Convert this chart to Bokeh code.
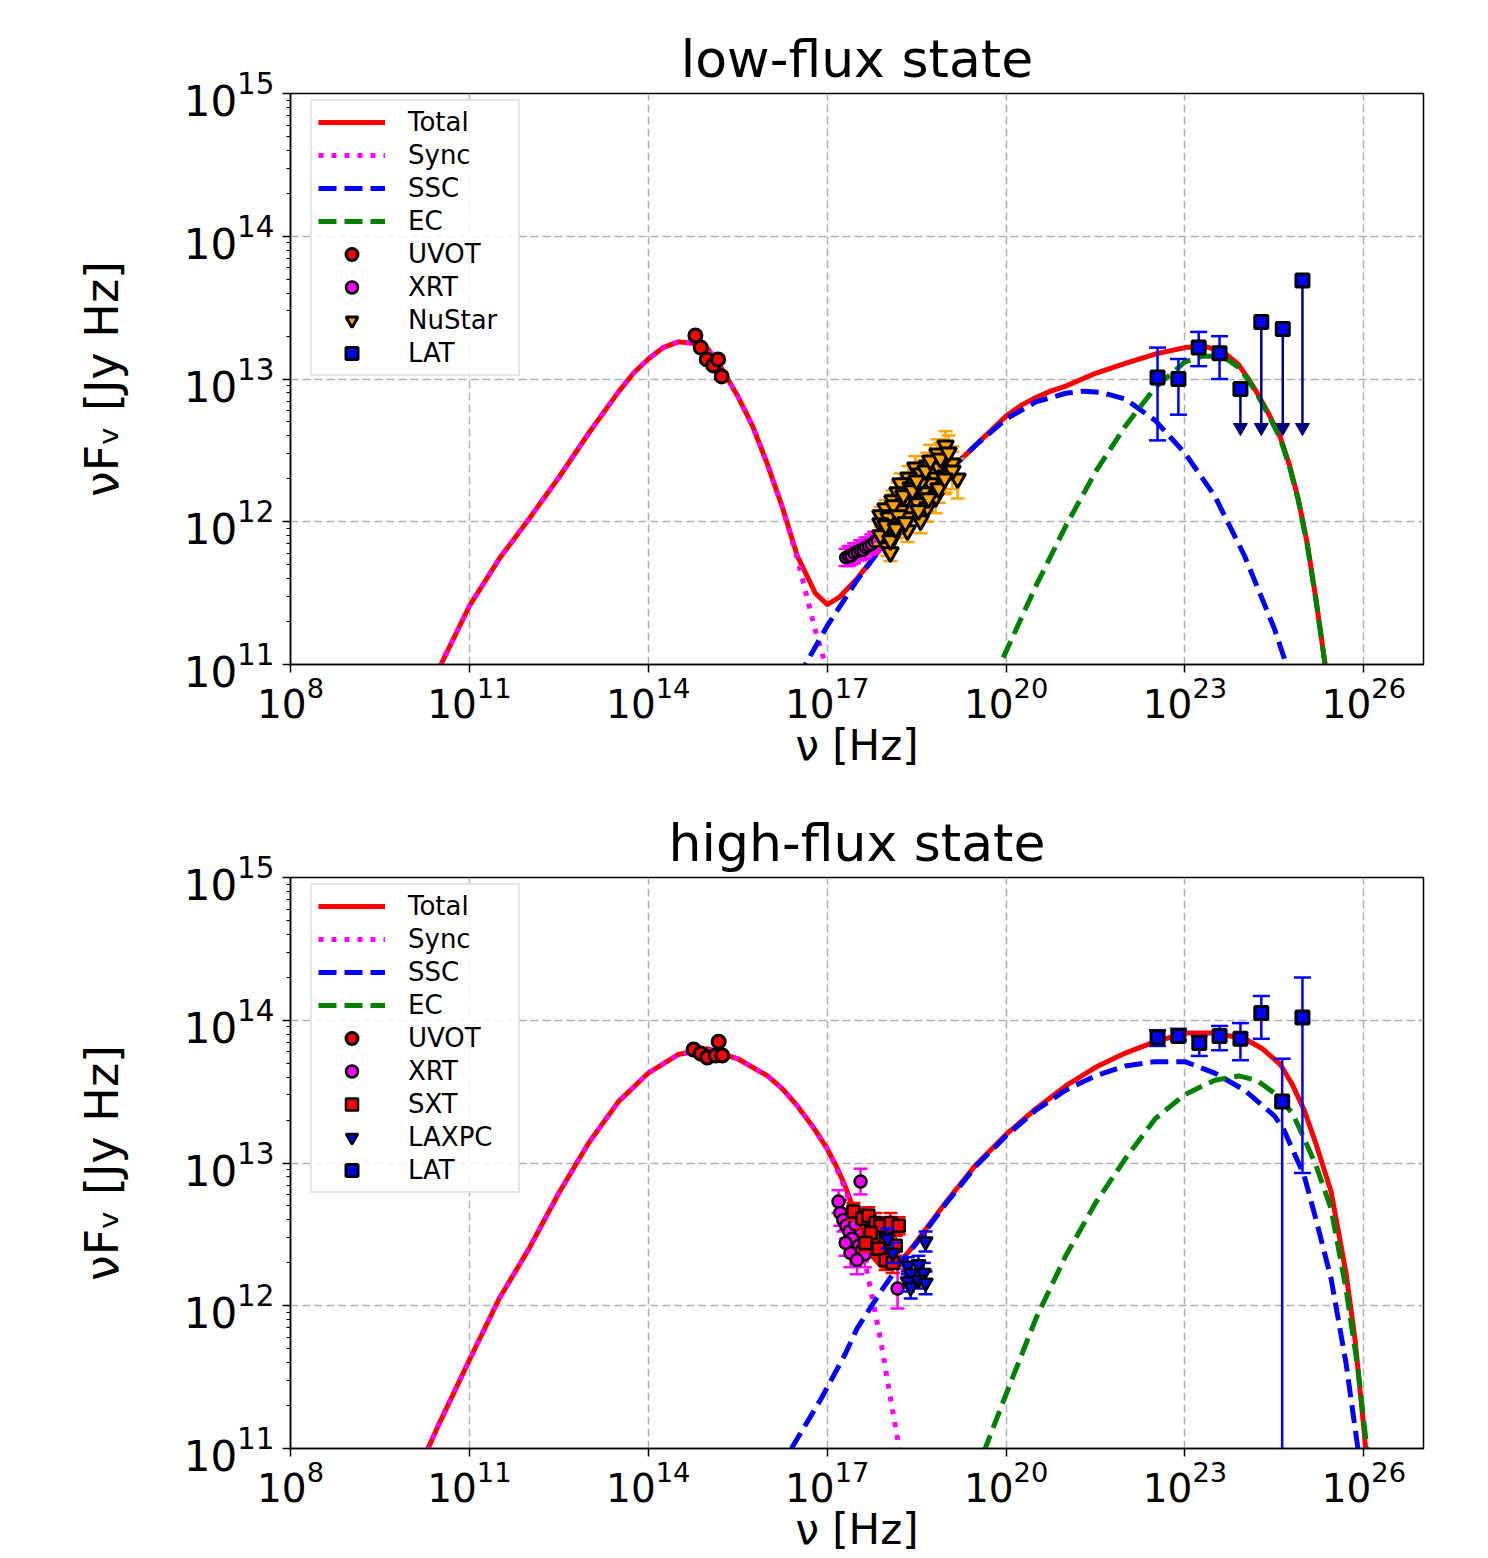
import numpy as np
from bokeh.plotting import figure
from bokeh.layouts import column
from bokeh.models import FixedTicker, LogTickFormatter, Legend, LegendItem, Range1d
from bokeh.embed import file_html
from bokeh.resources import INLINE

FONT = "DejaVu Sans"

# ---------------- data (log10 of nu [Hz] and nuF_nu [Jy Hz]) ----------------
x_tick_exps = [8, 11, 14, 17, 20, 23, 26]
y_tick_exps = [11, 12, 13, 14, 15]

# ---- low-flux state: model curves ----
low_sync_lognu = [10.5, 11.0, 11.5, 12.0, 12.5, 13.0, 13.5, 13.75, 14.0, 14.25, 14.5, 14.75, 15.0, 15.25, 15.5, 15.75, 16.0, 16.25, 16.5, 16.8, 17.0, 17.1]
low_sync_logF = [10.98, 11.41, 11.74, 12.02, 12.31, 12.62, 12.91, 13.04, 13.14, 13.22, 13.26, 13.25, 13.21, 13.06, 12.88, 12.67, 12.40, 12.10, 11.74, 11.24, 10.96, 10.70]

low_total_lognu = [10.5, 11.0, 11.5, 12.0, 12.5, 13.0, 13.5, 13.75, 14.0, 14.25, 14.5, 14.75, 15.0, 15.25, 15.5, 15.75, 16.0, 16.25, 16.5, 16.8, 17.0, 17.2, 17.5, 18.0, 18.5, 19.0, 19.5, 19.75, 20.0, 20.25, 20.5, 20.75, 21.0, 21.5, 22.0, 22.5, 23.0, 23.3, 23.5, 23.7, 23.9, 24.05, 24.2, 24.4, 24.6, 24.75, 24.9, 25.05, 25.2, 25.35, 25.45]
low_total_logF = [10.98, 11.41, 11.74, 12.02, 12.31, 12.62, 12.91, 13.04, 13.14, 13.22, 13.26, 13.25, 13.21, 13.06, 12.88, 12.67, 12.40, 12.10, 11.76, 11.50, 11.42, 11.47, 11.60, 11.87, 12.11, 12.34, 12.54, 12.64, 12.74, 12.815, 12.87, 12.915, 12.95, 13.04, 13.11, 13.175, 13.22, 13.23, 13.21, 13.17, 13.10, 13.01, 12.91, 12.76, 12.59, 12.40, 12.16, 11.85, 11.45, 11.0, 10.6]

low_ssc_lognu = [16.5, 17.0, 17.5, 18.0, 18.5, 19.0, 19.5, 20.0, 20.5, 21.0, 21.3, 21.6, 22.0, 22.5, 23.0, 23.5, 24.0, 24.5, 24.7, 24.9]
low_ssc_logF = [10.90, 11.27, 11.59, 11.87, 12.11, 12.34, 12.54, 12.72, 12.84, 12.90, 12.915, 12.905, 12.86, 12.71, 12.48, 12.18, 11.76, 11.25, 11.0, 10.6]

low_ec_lognu = [19.7, 19.9, 20.5, 21.0, 21.5, 22.0, 22.5, 23.0, 23.3, 23.5, 23.7, 23.9, 24.05, 24.2, 24.4, 24.6, 24.75, 24.9, 25.05, 25.2, 25.35, 25.45]
low_ec_logF = [10.7, 11.0, 11.55, 11.97, 12.35, 12.67, 12.94, 13.12, 13.16, 13.16, 13.14, 13.08, 13.00, 12.90, 12.75, 12.58, 12.39, 12.15, 11.84, 11.44, 11.0, 10.6]

# ---- low-flux state: data ----
low_uvot_lognu = [14.79, 14.88, 14.98, 15.09, 15.17, 15.23]
low_uvot_logF = [13.305, 13.22, 13.137, 13.095, 13.137, 13.018]
low_uvot_err = [0.02, 0.02, 0.02, 0.02, 0.02, 0.02]

low_xrt_lognu = [17.31, 17.36, 17.40, 17.45, 17.50, 17.55, 17.60, 17.64, 17.69, 17.74, 17.79, 17.84]
low_xrt_logF = [11.75, 11.76, 11.76, 11.78, 11.79, 11.80, 11.80, 11.82, 11.83, 11.84, 11.86, 11.87]
low_xrt_err = [0.06, 0.07, 0.06, 0.07, 0.06, 0.07, 0.06, 0.07, 0.06, 0.07, 0.07, 0.06]

low_nustar_lognu = [18.985, 18.85, 19.10, 18.68, 18.867, 18.48, 18.565, 19.186, 18.985, 18.817,
                    18.364, 18.733, 18.565, 18.23, 18.40, 18.18, 18.615, 18.45, 18.817, 18.096,
                    18.28, 18.515, 18.68, 17.98, 18.23, 17.894, 18.03, 18.364, 18.565, 17.894,
                    18.18, 18.347, 17.98, 17.894, 18.096, 18.01, 18.06,
                    17.98, 18.11, 18.196, 18.28, 18.43, 18.50, 18.65, 18.73, 18.90, 19.035,
                    19.10, 18.06, 18.15, 18.31, 18.53, 18.70, 18.87, 18.97]
low_nustar_logF = [12.534, 12.478, 12.408, 12.394, 12.38, 12.38, 12.338, 12.303, 12.324, 12.31,
                   12.31, 12.268, 12.268, 12.268, 12.24, 12.205, 12.205, 12.198, 12.17, 12.149,
                   12.128, 12.128, 12.10, 12.093, 12.079, 12.044, 12.03, 12.03, 12.009, 11.988,
                   11.96, 11.939, 11.925, 11.904, 11.883, 11.82, 11.785,
                   11.974, 12.114, 12.044, 12.184, 12.219, 12.289, 12.359, 12.429, 12.443, 12.485,
                   12.359, 11.869, 11.953, 11.995, 12.079, 12.163, 12.233, 12.303]
low_nustar_err = [0.10, 0.10, 0.12, 0.09, 0.10, 0.08, 0.09, 0.14, 0.12, 0.10,
                  0.08, 0.10, 0.09, 0.07, 0.08, 0.07, 0.09, 0.08, 0.11, 0.07,
                  0.07, 0.08, 0.10, 0.06, 0.07, 0.06, 0.06, 0.08, 0.09, 0.06,
                  0.07, 0.08, 0.06, 0.06, 0.07, 0.06, 0.06,
                  0.08, 0.08, 0.07, 0.09, 0.09, 0.09, 0.10, 0.11, 0.11, 0.12,
                  0.13, 0.07, 0.07, 0.08, 0.08, 0.09, 0.10, 0.11]

low_lat_lognu = [22.54, 22.89, 23.23, 23.58]
low_lat_logF = [13.01, 13.00, 13.22, 13.18]
low_lat_hi = [13.22, 13.14, 13.33, 13.30]
low_lat_lo = [12.57, 12.75, 13.09, 13.00]
low_ul_lognu = [23.93, 24.28, 24.64, 24.97]
low_ul_logF = [12.93, 13.40, 13.35, 13.69]
low_ul_end = [12.66, 12.66, 12.66, 12.66]

# ---- high-flux state: model curves ----
high_sync_lognu = [10.2, 10.5, 11.0, 11.5, 12.0, 12.5, 13.0, 13.5, 14.0, 14.5, 15.0, 15.5, 16.0, 16.25, 16.5, 16.75, 17.0, 17.15, 17.3, 17.45, 17.6, 17.75, 17.9, 18.05, 18.2, 18.3]
high_sync_logF = [10.9, 11.18, 11.62, 12.05, 12.40, 12.79, 13.14, 13.43, 13.63, 13.76, 13.80, 13.73, 13.61, 13.52, 13.40, 13.26, 13.10, 12.97, 12.82, 12.62, 12.38, 12.07, 11.75, 11.38, 11.02, 10.7]

high_total_lognu = [10.2, 10.5, 11.0, 11.5, 12.0, 12.5, 13.0, 13.5, 14.0, 14.5, 15.0, 15.5, 16.0, 16.25, 16.5, 16.75, 17.0, 17.15, 17.3, 17.45, 17.6, 17.75, 17.9, 18.05, 18.2, 18.35, 18.5, 19.0, 19.5, 20.0, 20.5, 21.0, 21.5, 22.0, 22.5, 23.0, 23.5, 24.0, 24.3, 24.6, 24.8, 25.0, 25.2, 25.45, 25.7, 25.85, 26.0, 26.05]
high_total_logF = [10.9, 11.18, 11.62, 12.05, 12.40, 12.79, 13.14, 13.43, 13.63, 13.76, 13.80, 13.73, 13.61, 13.52, 13.40, 13.26, 13.10, 12.98, 12.84, 12.67, 12.49, 12.35, 12.28, 12.26, 12.30, 12.37, 12.45, 12.73, 12.99, 13.20, 13.38, 13.54, 13.67, 13.77, 13.85, 13.91, 13.91, 13.87, 13.80, 13.69, 13.55, 13.37, 13.13, 12.80, 12.23, 11.77, 11.14, 10.9]

high_ssc_lognu = [16.4, 16.9, 17.3, 17.5, 17.9, 18.2, 18.5, 19.0, 19.5, 20.0, 20.5, 21.0, 21.5, 22.0, 22.5, 23.0, 23.5, 24.0, 24.5, 24.65, 25.0, 25.2, 25.45, 25.7, 25.9, 26.0]
high_ssc_logF = [11.0, 11.35, 11.66, 11.84, 12.10, 12.28, 12.44, 12.72, 12.98, 13.19, 13.37, 13.51, 13.61, 13.68, 13.71, 13.71, 13.63, 13.51, 13.33, 13.24, 12.91, 12.60, 12.19, 11.60, 11.0, 10.6]

high_ec_lognu = [19.5, 19.65, 20.0, 20.5, 21.0, 21.5, 22.0, 22.5, 23.0, 23.5, 23.9, 24.2, 24.5, 24.8, 25.0, 25.2, 25.45, 25.7, 25.9, 26.05, 26.1]
high_ec_logF = [10.8, 11.0, 11.38, 11.91, 12.35, 12.72, 13.03, 13.31, 13.48, 13.58, 13.61, 13.58, 13.49, 13.35, 13.17, 12.98, 12.68, 12.12, 11.56, 11.0, 10.7]

# ---- high-flux state: data ----
high_uvot_lognu = [14.76, 14.88, 14.99, 15.13, 15.18, 15.24]
high_uvot_logF = [13.795, 13.767, 13.739, 13.753, 13.85, 13.753]
high_uvot_err = [0.02, 0.02, 0.02, 0.02, 0.02, 0.02]

high_xrt_lognu = [17.19, 17.56, 17.22, 17.27, 17.32, 17.37, 17.42, 17.47, 17.53, 17.58, 17.63, 17.39, 17.31, 17.50, 17.70, 17.76, 18.18]
high_xrt_logF = [12.73, 12.87, 12.65, 12.60, 12.56, 12.52, 12.47, 12.57, 12.42, 12.39, 12.36, 12.37, 12.44, 12.32, 12.49, 12.44, 12.12]
high_xrt_err = [0.08, 0.09, 0.09, 0.08, 0.09, 0.08, 0.09, 0.08, 0.09, 0.08, 0.09, 0.10, 0.09, 0.10, 0.08, 0.09, 0.14]

high_sxt_lognu = [17.44, 17.59, 17.69, 17.81, 17.89, 18.06, 18.20, 17.73, 17.98, 18.15, 17.86, 17.98, 17.64, 18.10]
high_sxt_logF = [12.66, 12.61, 12.63, 12.58, 12.56, 12.58, 12.56, 12.51, 12.47, 12.42, 12.40, 12.32, 12.44, 12.30]
high_sxt_err = [0.06, 0.07, 0.06, 0.07, 0.06, 0.07, 0.06, 0.07, 0.06, 0.07, 0.06, 0.07, 0.06, 0.07]

high_laxpc_lognu = [18.65, 18.35, 18.53, 18.40, 18.62, 18.35, 18.53, 18.40, 18.65, 18.01, 18.10]
high_laxpc_logF = [12.45, 12.28, 12.29, 12.23, 12.23, 12.17, 12.18, 12.13, 12.16, 12.47, 12.37]
high_laxpc_err = [0.07, 0.06, 0.06, 0.07, 0.07, 0.07, 0.06, 0.08, 0.08, 0.07, 0.07]

high_lat_lognu = [22.54, 22.89, 23.24, 23.58, 23.93, 24.28, 24.63, 24.97]
high_lat_logF = [13.88, 13.89, 13.84, 13.89, 13.87, 14.05, 13.43, 14.02]
high_lat_hi = [13.93, 13.94, 13.89, 13.96, 13.98, 14.17, 13.73, 14.30]
high_lat_lo = [13.82, 13.86, 13.75, 13.79, 13.72, 13.87, 10.0, 12.93]


def p10(a):
    return list(np.power(10.0, np.asarray(a, dtype=float)))


RED = "#ff0000"
MAG = "#ff00ff"
BLUE = "#0000ff"
GREEN = "#008000"
ORANGE = "#ffa500"
NAVY = "#000080"

FRAME_W = 1133
FRAME_H = 571


def make_fig(title, top_border, bottom_border):
    height = top_border + FRAME_H + bottom_border
    p = figure(width=1488, height=height, x_axis_type="log", y_axis_type="log",
               x_range=Range1d(1e8, 1e27), y_range=Range1d(1e11, 1e15),
               output_backend="svg", toolbar_location=None, title=title,
               min_border_left=290, min_border_right=1488 - 290 - FRAME_W,
               min_border_top=top_border, min_border_bottom=bottom_border)
    p.title.text_font = FONT
    p.title.text_font_size = "52px"
    p.title.text_font_style = "normal"
    p.title.align = "center"
    p.title.text_color = "black"

    p.xaxis.ticker = FixedTicker(ticks=[10.0 ** e for e in x_tick_exps], minor_ticks=[])
    ymin = [k * 10.0 ** e for e in y_tick_exps[:-1] for k in range(2, 10)]
    p.yaxis.ticker = FixedTicker(ticks=[10.0 ** e for e in y_tick_exps], minor_ticks=ymin)
    for ax in (p.xaxis[0], p.yaxis[0]):
        ax.formatter = LogTickFormatter()
        ax.major_label_text_font = FONT
        ax.major_label_text_color = "black"
        ax.axis_line_color = "black"
        ax.axis_line_width = 1.5
        ax.major_tick_line_color = "black"
        ax.major_tick_line_width = 1.5
        ax.major_tick_out = 8
        ax.major_tick_in = 0
        ax.minor_tick_line_color = "black"
        ax.minor_tick_line_width = 1.2
        ax.minor_tick_out = 4
        ax.minor_tick_in = 0
        ax.axis_label_text_font = FONT
        ax.axis_label_text_font_style = "normal"
        ax.axis_label_text_color = "black"
    p.xaxis.axis_label = "ν [Hz]"
    p.yaxis.axis_label = "νFᵥ [Jy Hz]"
    p.xaxis.major_label_text_font_size = "39px"
    p.yaxis.major_label_text_font_size = "42px"
    p.xaxis.axis_label_text_font_size = "42px"
    p.yaxis.axis_label_text_font_size = "46px"
    p.xaxis.major_label_standoff = 4
    p.xaxis.axis_label_standoff = 0
    p.yaxis.major_label_standoff = 8
    p.yaxis.axis_label_standoff = 52

    for g in (p.xgrid, p.ygrid):
        g.grid_line_color = "#b0b0b0"
        g.grid_line_dash = "8 4"
        g.grid_line_width = 1.5

    p.outline_line_color = "black"
    p.outline_line_width = 1.5
    p.background_fill_color = "white"
    p.border_fill_color = "white"
    return p


def curves(p, sync, total, ssc, ec):
    r_tot = p.line(p10(total[0]), p10(total[1]), line_color=RED, line_width=5, line_join="round")
    r_syn = p.line(p10(sync[0]), p10(sync[1]), line_color=MAG, line_width=5, line_dash="5 8")
    r_ssc = p.line(p10(ssc[0]), p10(ssc[1]), line_color=BLUE, line_width=5, line_dash="18 8")
    r_ec = p.line(p10(ec[0]), p10(ec[1]), line_color=GREEN, line_width=5, line_dash="18 8")
    return [("Total", r_tot), ("Sync", r_syn), ("SSC", r_ssc), ("EC", r_ec)]


def errbars(p, lognu, lo, hi, color, cap=15, lw=2.5):
    xs = p10(lognu)
    p.segment(x0=xs, y0=p10(lo), x1=xs, y1=p10(hi), line_color=color, line_width=lw)
    p.scatter(x=xs + xs, y=p10(lo) + p10(hi), marker="dash", size=cap,
              line_color=color, line_width=lw)


def sym(logF, err):
    return ([f - e for f, e in zip(logF, err)], [f + e for f, e in zip(logF, err)])


def points(p, lognu, logF, marker, fill, size=13, lw=2.5):
    return p.scatter(p10(lognu), p10(logF), marker=marker, size=size,
                     fill_color=fill, line_color="black", line_width=lw)


def legend(p, items):
    n = len(items)
    pad, gh, sp = 6, 30, 3
    legend_h = 2 * pad + n * gh + (n - 1) * sp
    lg = Legend(items=[LegendItem(label=l, renderers=[r]) for l, r in items],
                location=(20, FRAME_H - 10 - legend_h), padding=pad, spacing=sp,
                glyph_width=67, glyph_height=gh, label_standoff=23, label_width=104,
                label_height=gh,
                label_text_font=FONT, label_text_font_size="26px",
                label_text_color="black",
                border_line_color="#cccccc", border_line_width=2,
                background_fill_color="white", background_fill_alpha=0.85)
    p.add_layout(lg)


# ---------------- low-flux state ----------------
p1 = make_fig("low-flux state", 93, 110)
items1 = curves(p1, (low_sync_lognu, low_sync_logF), (low_total_lognu, low_total_logF),
                (low_ssc_lognu, low_ssc_logF), (low_ec_lognu, low_ec_logF))
lo, hi = sym(low_uvot_logF, low_uvot_err)
errbars(p1, low_uvot_lognu, lo, hi, RED, cap=10)
r_uvot1 = points(p1, low_uvot_lognu, low_uvot_logF, "circle", RED, lw=3)
lo, hi = sym(low_xrt_logF, low_xrt_err)
errbars(p1, low_xrt_lognu, lo, hi, MAG, cap=14)
r_xrt1 = points(p1, low_xrt_lognu, low_xrt_logF, "circle", MAG, size=11)
lo, hi = sym(low_nustar_logF, low_nustar_err)
errbars(p1, low_nustar_lognu, lo, hi, ORANGE, cap=14)
r_nu1 = points(p1, low_nustar_lognu, low_nustar_logF, "inverted_triangle", ORANGE, size=16, lw=3)
errbars(p1, low_lat_lognu, low_lat_lo, low_lat_hi, BLUE, cap=17)
r_lat1 = points(p1, low_lat_lognu, low_lat_logF, "square", BLUE, size=13, lw=3)
p1.segment(x0=p10(low_ul_lognu), y0=p10(low_ul_logF), x1=p10(low_ul_lognu), y1=p10(low_ul_end),
           line_color=NAVY, line_width=2.5)
p1.scatter(p10(low_ul_lognu), p10(low_ul_end), marker="inverted_triangle", size=14,
           fill_color=NAVY, line_color=NAVY)
points(p1, low_ul_lognu, low_ul_logF, "square", BLUE, size=13, lw=3)
legend(p1, items1 + [("UVOT", r_uvot1), ("XRT", r_xrt1), ("NuStar", r_nu1), ("LAT", r_lat1)])

# ---------------- high-flux state ----------------
p2 = make_fig("high-flux state", 103, 110)
items2 = curves(p2, (high_sync_lognu, high_sync_logF), (high_total_lognu, high_total_logF),
                (high_ssc_lognu, high_ssc_logF), (high_ec_lognu, high_ec_logF))
lo, hi = sym(high_uvot_logF, high_uvot_err)
errbars(p2, high_uvot_lognu, lo, hi, RED, cap=10)
r_uvot2 = points(p2, high_uvot_lognu, high_uvot_logF, "circle", RED, lw=3)
lo, hi = sym(high_xrt_logF, high_xrt_err)
errbars(p2, high_xrt_lognu, lo, hi, MAG, cap=14)
r_xrt2 = points(p2, high_xrt_lognu, high_xrt_logF, "circle", MAG, size=12)
lo, hi = sym(high_sxt_logF, high_sxt_err)
errbars(p2, high_sxt_lognu, lo, hi, RED, cap=14)
r_sxt2 = points(p2, high_sxt_lognu, high_sxt_logF, "square", RED, size=12)
lo, hi = sym(high_laxpc_logF, high_laxpc_err)
errbars(p2, high_laxpc_lognu, lo, hi, BLUE, cap=14)
r_lax2 = points(p2, high_laxpc_lognu, high_laxpc_logF, "inverted_triangle", BLUE, size=14)
errbars(p2, high_lat_lognu, high_lat_lo, high_lat_hi, BLUE, cap=17)
r_lat2 = points(p2, high_lat_lognu, high_lat_logF, "square", BLUE, size=13, lw=3)
legend(p2, items2 + [("UVOT", r_uvot2), ("XRT", r_xrt2), ("SXT", r_sxt2),
                     ("LAXPC", r_lax2), ("LAT", r_lat2)])

layout = column(p1, p2, spacing=0)
open("out.html", "w").write(file_html(layout, INLINE))
